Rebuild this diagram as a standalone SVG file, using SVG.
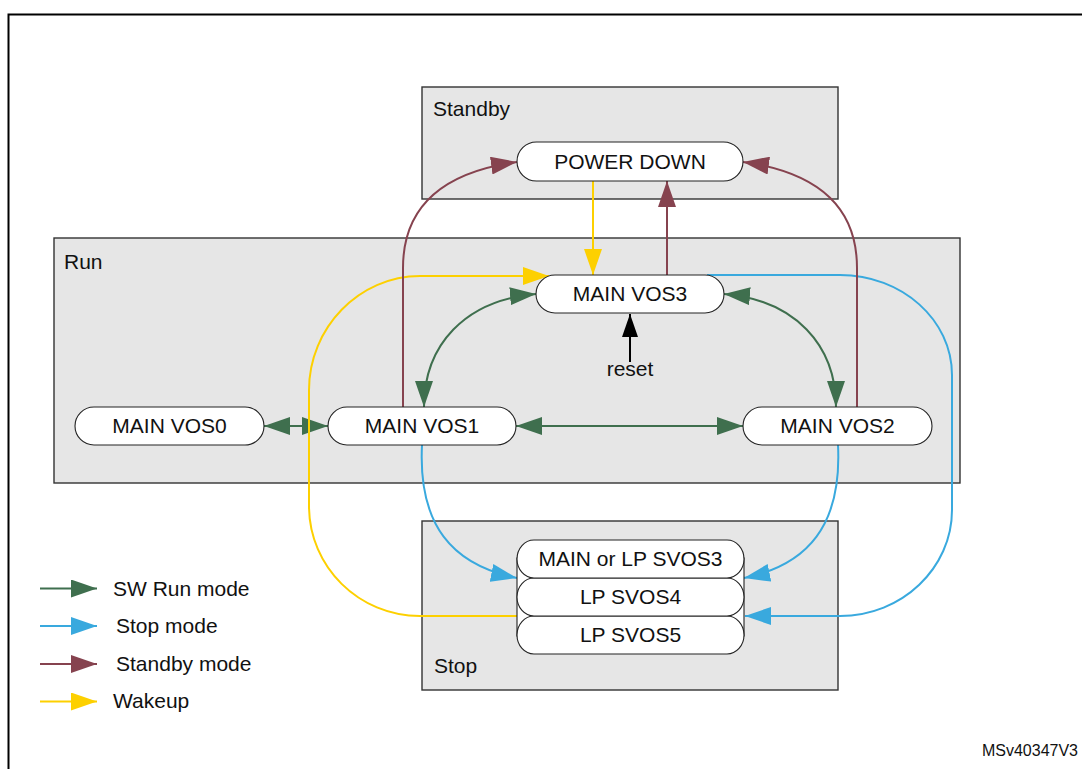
<svg xmlns="http://www.w3.org/2000/svg" width="1082" height="769" viewBox="0 0 1082 769">
<style>
text{font-family:"Liberation Sans",Arial,sans-serif;font-size:21px;fill:#111}
.box{fill:#e6e6e6;stroke:#333;stroke-width:1.4}
.node{fill:#fff;stroke:#222;stroke-width:1.1}
.c{fill:none;stroke-width:2}
.g{stroke:#3f6f4e}.b{stroke:#39a9de}.m{stroke:#86434f}.y{stroke:#fdd000}.k{stroke:#000}
.mid{text-anchor:middle}
</style>
<defs>
<marker id="ag" markerUnits="userSpaceOnUse" viewBox="0 0 26 18" refX="26" refY="9" markerWidth="26" markerHeight="18" orient="auto-start-reverse"><path d="M0,0L26,9L0,18z" fill="#3f6f4e"/></marker>
<marker id="ab" markerUnits="userSpaceOnUse" viewBox="0 0 26 18" refX="26" refY="9" markerWidth="26" markerHeight="18" orient="auto-start-reverse"><path d="M0,0L26,9L0,18z" fill="#39a9de"/></marker>
<marker id="am" markerUnits="userSpaceOnUse" viewBox="0 0 26 18" refX="26" refY="9" markerWidth="26" markerHeight="18" orient="auto-start-reverse"><path d="M0,0L26,9L0,18z" fill="#86434f"/></marker>
<marker id="ay" markerUnits="userSpaceOnUse" viewBox="0 0 26 18" refX="26" refY="9" markerWidth="26" markerHeight="18" orient="auto-start-reverse"><path d="M0,0L26,9L0,18z" fill="#fdd000"/></marker>
<marker id="ak" markerUnits="userSpaceOnUse" viewBox="0 0 26 18" refX="26" refY="9" markerWidth="24" markerHeight="16" orient="auto-start-reverse"><path d="M0,0L26,9L0,18z" fill="#000"/></marker>
</defs>
<rect width="1082" height="769" fill="#fff"/>
<path d="M8.5 769V14.5H1082" fill="none" stroke="#000" stroke-width="2"/>

<g id="standby-box"><rect class="box" x="422" y="87" width="416" height="112"/><text x="433" y="116">Standby</text></g>
<g id="run-box"><rect class="box" x="54" y="238" width="906" height="245"/><text x="64" y="269">Run</text></g>
<g id="stop-box"><rect class="box" x="422" y="521" width="416" height="169"/><text x="434" y="673">Stop</text></g>

<g id="connectors">
<path class="c g" d="M264 426H328" marker-start="url(#ag)" marker-end="url(#ag)"/>
<path class="c g" d="M516 426H743" marker-start="url(#ag)" marker-end="url(#ag)"/>
<path class="c g" d="M424 407C424 345 465 300 536 294" marker-start="url(#ag)" marker-end="url(#ag)"/>
<path class="c g" d="M724 294C795 300 836 345 836 407" marker-start="url(#ag)" marker-end="url(#ag)"/>
<path class="c b" d="M422 445C418 525 452 565 517 578" marker-end="url(#ab)"/>
<path class="c b" d="M838 445C842 525 808 565 744 578" marker-end="url(#ab)"/>
<path class="c b" d="M707 275H840C902 275 952 320 952 375V510C952 568 902 616 840 616H745" marker-end="url(#ab)"/>
<path class="c y" d="M593 181V275" marker-end="url(#ay)"/>
<path class="c y" d="M517 616H420C359 616 309 567 309 506V390C309 328 359 276 420 276H549" marker-end="url(#ay)"/>
<path class="c m" d="M667 275V181" marker-end="url(#am)"/>
<path class="c m" d="M403 407V268C403 205 445 172 517 162" marker-end="url(#am)"/>
<path class="c m" d="M857 407V268C857 205 815 172 743 162" marker-end="url(#am)"/>
<path class="c k" d="M630 362V314" marker-end="url(#ak)"/>
</g>

<g id="power-down"><rect class="node" x="517" y="142" width="226" height="39" rx="19.5"/><text class="mid" x="630" y="169">POWER DOWN</text></g>
<g id="main-vos3"><rect class="node" x="536" y="275" width="188" height="38" rx="19"/><text class="mid" x="630" y="301">MAIN VOS3</text></g>
<g id="main-vos0"><rect class="node" x="75" y="407" width="189" height="38" rx="19"/><text class="mid" x="169.5" y="433">MAIN VOS0</text></g>
<g id="main-vos1"><rect class="node" x="328" y="407" width="188" height="38" rx="19"/><text class="mid" x="422" y="433">MAIN VOS1</text></g>
<g id="main-vos2"><rect class="node" x="743" y="407" width="189" height="38" rx="19"/><text class="mid" x="837.5" y="433">MAIN VOS2</text></g>
<g id="reset"><text class="mid" x="630" y="376">reset</text></g>
<g id="stop-stack">
<rect class="node" x="517" y="558" width="227" height="78"/>
<rect class="node" x="517" y="616" width="227" height="38" rx="17" ry="19"/>
<rect class="node" x="517" y="578" width="227" height="38" rx="17" ry="19"/>
<rect class="node" x="517" y="540" width="227" height="38" rx="17" ry="19"/>
<text class="mid" x="630.5" y="566">MAIN or LP SVOS3</text>
<text class="mid" x="630.5" y="604">LP SVOS4</text>
<text class="mid" x="630.5" y="642">LP SVOS5</text>
</g>

<g id="legend">
<path class="c g" d="M40 588.5H97" marker-end="url(#ag)"/>
<path class="c b" d="M40 626H97" marker-end="url(#ab)"/>
<path class="c m" d="M40 664H97" marker-end="url(#am)"/>
<path class="c y" d="M40 701.5H97" marker-end="url(#ay)"/>
<text x="113" y="596">SW Run mode</text>
<text x="116" y="633">Stop mode</text>
<text x="116" y="671">Standby mode</text>
<text x="113" y="708">Wakeup</text>
</g>
<text x="1078" y="756" style="font-size:16px;text-anchor:end">MSv40347V3</text>
</svg>
